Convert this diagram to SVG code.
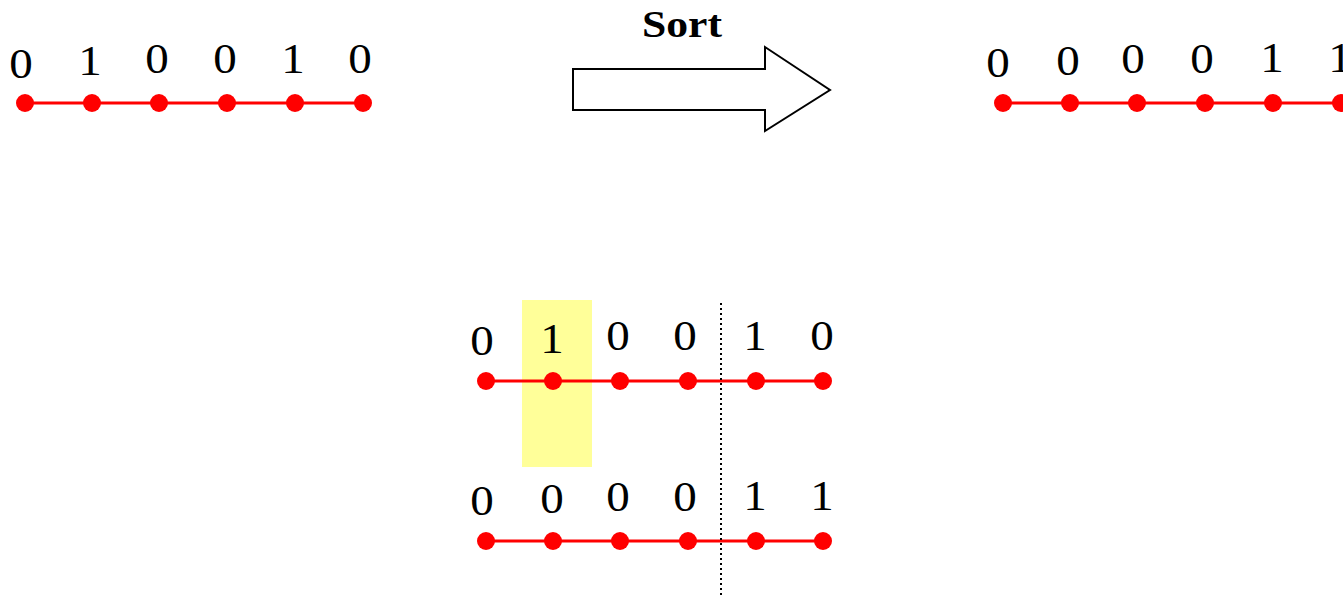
<svg xmlns="http://www.w3.org/2000/svg" width="1343" height="596" viewBox="0 0 1343 596">
  <style>
    .chain { stroke: #ff0000; stroke-width: 3; fill: none; }
    .bead { fill: #ff0000; }
    .digit { font-family: "Liberation Serif", "Times New Roman", Times, serif; font-size: 42px; fill: #000; text-anchor: middle; }
    .title { font-family: "Liberation Serif", "Times New Roman", Times, serif; font-size: 39px; font-weight: bold; fill: #000; text-anchor: middle; }
  </style>
  <defs>
    <circle id="dot" r="9" class="bead"/>
  </defs>
  <rect width="1343" height="596" fill="#ffffff"/>

  <!-- highlight behind the second element of the working row -->
  <rect id="highlight" x="522" y="300" width="70" height="167" fill="#ffff99"/>

  <!-- input sequence -->
  <g id="input-row">
    <line class="chain" x1="25" y1="103" x2="363" y2="103"/>
    <use href="#dot" x="25" y="103"/><use href="#dot" x="92" y="103"/><use href="#dot" x="159" y="103"/>
    <use href="#dot" x="227" y="103"/><use href="#dot" x="295" y="103"/><use href="#dot" x="363" y="103"/>
    <text class="digit" transform="translate(21,78) scale(1.12,1)">0</text>
    <text class="digit" transform="translate(90,75) scale(1.12,1)">1</text>
    <text class="digit" transform="translate(157,73) scale(1.12,1)">0</text>
    <text class="digit" transform="translate(225,73) scale(1.12,1)">0</text>
    <text class="digit" transform="translate(293,73) scale(1.12,1)">1</text>
    <text class="digit" transform="translate(360,73) scale(1.12,1)">0</text>
  </g>

  <!-- sort arrow -->
  <g id="sort-arrow">
    <polygon points="573,69 765,69 765,47 830,90 765,131 765,110 573,110" fill="#ffffff" stroke="#000" stroke-width="2"/>
    <text class="title" transform="translate(682,37) scale(1.12,1)">Sort</text>
  </g>

  <!-- sorted sequence -->
  <g id="sorted-row">
    <line class="chain" x1="1003" y1="103" x2="1341" y2="103"/>
    <use href="#dot" x="1003" y="103"/><use href="#dot" x="1070" y="103"/><use href="#dot" x="1137" y="103"/>
    <use href="#dot" x="1205" y="103"/><use href="#dot" x="1273" y="103"/><use href="#dot" x="1341" y="103"/>
    <text class="digit" transform="translate(998,77) scale(1.12,1)">0</text>
    <text class="digit" transform="translate(1068,75) scale(1.12,1)">0</text>
    <text class="digit" transform="translate(1133,73) scale(1.12,1)">0</text>
    <text class="digit" transform="translate(1202,73) scale(1.12,1)">0</text>
    <text class="digit" transform="translate(1272,72) scale(1.12,1)">1</text>
    <text class="digit" transform="translate(1340,72) scale(1.12,1)">1</text>
  </g>

  <!-- working row: before -->
  <g id="before-row">
    <line class="chain" x1="486" y1="381" x2="823" y2="381"/>
    <use href="#dot" x="486" y="381"/><use href="#dot" x="553" y="381"/><use href="#dot" x="620" y="381"/>
    <use href="#dot" x="688" y="381"/><use href="#dot" x="756" y="381"/><use href="#dot" x="823" y="381"/>
    <text class="digit" transform="translate(482,355) scale(1.12,1)">0</text>
    <text class="digit" transform="translate(552,353) scale(1.12,1)">1</text>
    <text class="digit" transform="translate(618,350) scale(1.12,1)">0</text>
    <text class="digit" transform="translate(685,350) scale(1.12,1)">0</text>
    <text class="digit" transform="translate(755,350) scale(1.12,1)">1</text>
    <text class="digit" transform="translate(822,350) scale(1.12,1)">0</text>
  </g>

  <!-- working row: after -->
  <g id="after-row">
    <line class="chain" x1="486" y1="541" x2="823" y2="541"/>
    <use href="#dot" x="486" y="541"/><use href="#dot" x="553" y="541"/><use href="#dot" x="620" y="541"/>
    <use href="#dot" x="688" y="541"/><use href="#dot" x="756" y="541"/><use href="#dot" x="823" y="541"/>
    <text class="digit" transform="translate(482,515) scale(1.12,1)">0</text>
    <text class="digit" transform="translate(552,513) scale(1.12,1)">0</text>
    <text class="digit" transform="translate(618,511) scale(1.12,1)">0</text>
    <text class="digit" transform="translate(685,511) scale(1.12,1)">0</text>
    <text class="digit" transform="translate(755,510) scale(1.12,1)">1</text>
    <text class="digit" transform="translate(822,510) scale(1.12,1)">1</text>
  </g>

  <!-- partition boundary -->
  <g id="connectors">
    <line x1="721" y1="303" x2="721" y2="596" stroke="#000" stroke-width="2" stroke-dasharray="2,3"/>
  </g>
</svg>
